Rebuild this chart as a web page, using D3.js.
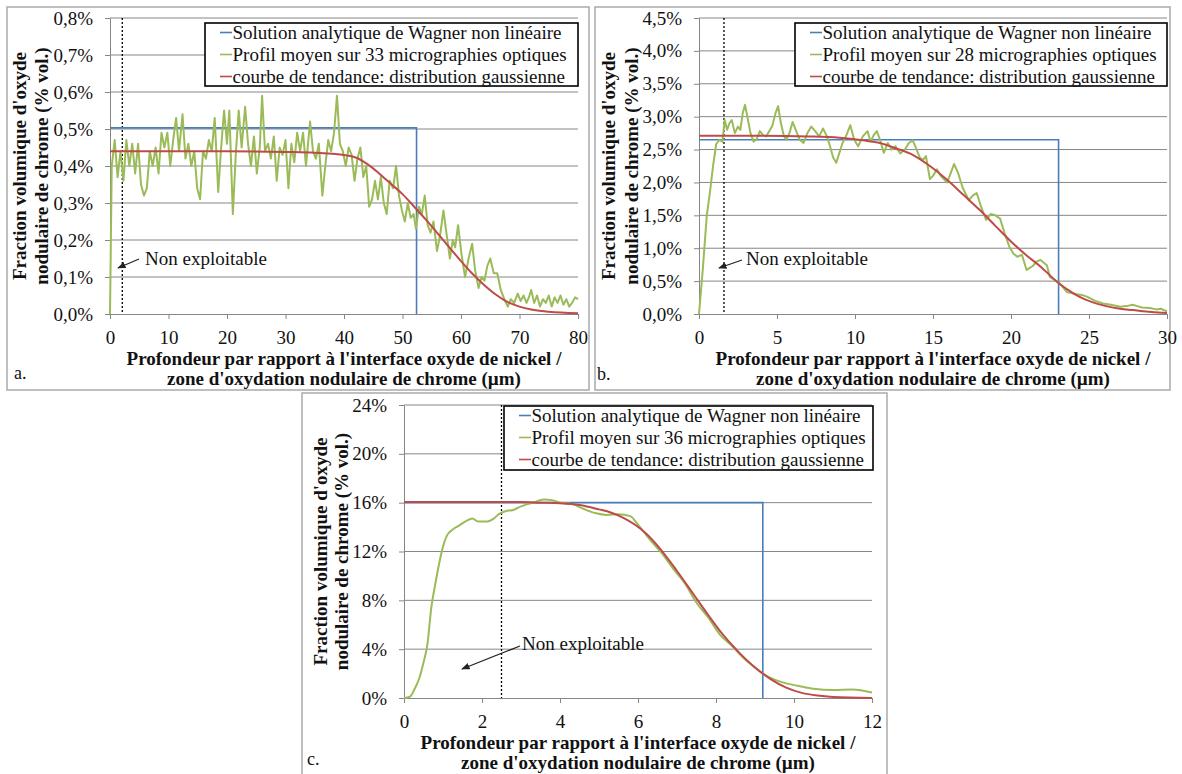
<!DOCTYPE html>
<html><head><meta charset="utf-8">
<script src="https://cdn.jsdelivr.net/npm/d3@7"></script>
<style>
body{margin:0;background:#fff}
svg{display:block}
text{font-family:"Liberation Serif","Times New Roman",serif;fill:#111}
</style>
</head><body>
<svg id="chart" width="1182" height="774"></svg>
<script>
// ---------------- DATA ----------------
const legendA = ["Solution analytique de Wagner non linéaire","Profil moyen sur 33 micrographies optiques","courbe de tendance: distribution gaussienne"];
const legendB = ["Solution analytique de Wagner non linéaire","Profil moyen sur 28 micrographies optiques","courbe de tendance: distribution gaussienne"];
const legendC = ["Solution analytique de Wagner non linéaire","Profil moyen sur 36 micrographies optiques","courbe de tendance: distribution gaussienne"];
const xTitle = ["Profondeur par rapport à l'interface oxyde de nickel /","zone d'oxydation nodulaire de chrome (µm)"];
const yTitle = ["Fraction volumique d'oxyde","nodulaire de chrome (% vol.)"];
const noteText = "Non exploitable";
const panelLetters = ["a.","b.","c."];

const xTicksA = [0,10,20,30,40,50,60,70,80];
const yTicksA = [0,0.1,0.2,0.3,0.4,0.5,0.6,0.7,0.8];
const xTicksB = [0,5,10,15,20,25,30];
const yTicksB = [0,0.5,1,1.5,2,2.5,3,3.5,4,4.5];
const xTicksC = [0,2,4,6,8,10,12];
const yTicksC = [0,4,8,12,16,20,24];

const limitA = 2.1, limitB = 1.6, limitC = 2.5;

const wagnerA = [[0,0.503],[52.4,0.503],[52.4,0]];
const profilA = [[0,0],[0.3,0.40],[0.8,0.47],[1.3,0.37],[1.8,0.44],[2.3,0.36],[2.8,0.47],[3.3,0.40],[3.8,0.46],[4.3,0.38],[4.8,0.46],[5.3,0.35],[5.8,0.32],[6.3,0.34],[6.8,0.44],[7.3,0.40],[7.8,0.45],[8.3,0.38],[8.8,0.49],[9.3,0.45],[9.8,0.49],[10.3,0.40],[10.8,0.47],[11.3,0.53],[11.8,0.44],[12.4,0.54],[12.9,0.42],[13.4,0.46],[13.9,0.40],[14.4,0.44],[14.9,0.34],[15.4,0.31],[15.9,0.44],[16.4,0.42],[16.9,0.47],[17.4,0.44],[17.9,0.53],[18.5,0.33],[19.0,0.45],[19.5,0.55],[20.0,0.46],[20.4,0.55],[21.0,0.27],[21.5,0.43],[22.0,0.55],[22.5,0.45],[23.1,0.56],[23.6,0.46],[24.1,0.40],[24.6,0.48],[25.1,0.38],[25.6,0.45],[26.0,0.59],[26.5,0.44],[27.0,0.46],[27.5,0.42],[28.0,0.48],[28.5,0.36],[29.0,0.45],[29.5,0.43],[30.0,0.47],[30.5,0.34],[31.0,0.46],[31.5,0.41],[32.0,0.49],[32.5,0.44],[33.0,0.49],[33.5,0.40],[34.2,0.52],[34.7,0.44],[35.2,0.42],[35.7,0.46],[36.3,0.32],[36.8,0.40],[37.3,0.47],[37.8,0.44],[38.3,0.49],[38.8,0.59],[39.3,0.46],[39.8,0.44],[40.3,0.40],[40.8,0.45],[41.3,0.43],[41.8,0.36],[42.3,0.42],[42.8,0.45],[43.3,0.37],[43.8,0.40],[44.3,0.29],[44.8,0.31],[45.3,0.36],[45.8,0.31],[46.3,0.37],[46.8,0.30],[47.3,0.27],[47.8,0.36],[48.4,0.34],[48.9,0.40],[49.4,0.32],[49.9,0.28],[50.4,0.25],[50.9,0.30],[51.4,0.26],[51.9,0.27],[52.3,0.23],[52.8,0.29],[53.3,0.27],[53.8,0.32],[54.3,0.24],[54.8,0.22],[55.3,0.25],[55.9,0.17],[56.4,0.21],[57.0,0.28],[57.5,0.22],[58.1,0.15],[58.6,0.20],[59.0,0.18],[59.5,0.24],[60.1,0.16],[60.7,0.10],[61.3,0.15],[61.9,0.19],[62.4,0.12],[63.0,0.07],[63.5,0.10],[64.0,0.09],[64.5,0.13],[65.0,0.15],[65.6,0.11],[66.2,0.11],[66.8,0.065],[67.4,0.04],[68.0,0.02],[68.5,0.04],[69.1,0.03],[69.7,0.055],[70.2,0.035],[70.7,0.05],[71.2,0.03],[71.6,0.045],[72.0,0.065],[72.5,0.03],[73.0,0.05],[73.5,0.02],[74.0,0.04],[74.5,0.03],[75.0,0.05],[75.5,0.02],[76.0,0.045],[76.5,0.03],[77.0,0.05],[77.5,0.025],[78.0,0.04],[78.5,0.02],[79.0,0.03],[79.5,0.045],[80.0,0.04]];
const gaussA = [[0,0.44],[10,0.44],[20,0.44],[30,0.438],[35,0.436],[38,0.433],[40,0.43],[42,0.423],[44,0.405],[46,0.38],[48,0.352],[50,0.324],[52,0.29],[54,0.255],[56,0.218],[58,0.18],[60,0.143],[62,0.108],[64,0.078],[66,0.052],[68,0.032],[70,0.02],[72,0.012],[75,0.006],[80,0.002]];

const wagnerB = [[0,2.65],[23.05,2.65],[23.05,0]];
const profilB = [[0,0],[0.25,0.7],[0.5,1.5],[0.7,1.85],[0.9,2.25],[1.1,2.58],[1.3,2.65],[1.5,2.62],[1.65,2.95],[1.8,2.8],[1.95,2.9],[2.1,2.95],[2.3,2.75],[2.5,2.85],[2.65,2.8],[2.8,3.05],[2.95,3.18],[3.1,3.0],[3.3,2.75],[3.5,2.62],[3.7,2.66],[3.9,2.78],[4.1,2.72],[4.3,2.7],[4.5,2.78],[4.7,2.86],[4.9,3.05],[5.07,3.16],[5.25,2.9],[5.45,2.7],[5.6,2.65],[5.8,2.75],[6.0,2.92],[6.2,2.8],[6.45,2.65],[6.7,2.6],[6.95,2.75],[7.2,2.85],[7.45,2.78],[7.7,2.7],[7.95,2.82],[8.2,2.7],[8.4,2.55],[8.6,2.38],[8.8,2.3],[9.0,2.45],[9.2,2.6],[9.45,2.72],[9.7,2.87],[9.95,2.65],[10.2,2.55],[10.5,2.7],[10.8,2.78],[11.0,2.62],[11.2,2.72],[11.4,2.78],[11.6,2.65],[11.85,2.45],[12.1,2.6],[12.35,2.5],[12.6,2.55],[12.9,2.44],[13.2,2.5],[13.45,2.6],[13.7,2.64],[13.95,2.5],[14.15,2.38],[14.35,2.34],[14.55,2.4],[14.8,2.05],[15.0,2.1],[15.25,2.2],[15.5,2.1],[15.9,2.0],[16.1,2.12],[16.35,2.28],[16.6,2.15],[16.9,1.92],[17.3,1.73],[17.55,1.8],[17.8,1.84],[18.1,1.62],[18.4,1.43],[18.7,1.52],[19.0,1.5],[19.3,1.45],[19.6,1.22],[19.9,1.02],[20.15,0.92],[20.4,0.87],[20.7,0.9],[21.0,0.67],[21.2,0.7],[21.4,0.73],[21.65,0.8],[21.9,0.82],[22.1,0.78],[22.3,0.74],[22.5,0.56],[22.8,0.52],[23.1,0.47],[23.35,0.4],[23.6,0.33],[23.9,0.32],[24.2,0.3],[24.55,0.29],[24.9,0.26],[25.4,0.2],[25.9,0.16],[26.4,0.14],[27.0,0.11],[27.4,0.12],[27.8,0.14],[28.1,0.12],[28.4,0.1],[28.9,0.09],[29.3,0.07],[29.6,0.08],[30.0,0.04]];
const gaussB = [[0,2.71],[4,2.71],[7,2.7],[9,2.68],[10.5,2.64],[11.6,2.6],[12.6,2.52],[13.7,2.42],[14.8,2.25],[15.9,2.04],[17,1.8],[18,1.58],[19,1.34],[20.1,1.08],[21,0.89],[21.9,0.72],[23,0.48],[23.7,0.36],[24.4,0.26],[25.2,0.18],[26.1,0.12],[27,0.08],[27.8,0.06],[29,0.03],[30,0.015]];

const wagnerC = [[0,16.0],[9.2,16.0],[9.2,0]];
const profilC = [[0,0],[0.15,0.1],[0.25,0.6],[0.4,1.7],[0.5,2.9],[0.6,4.4],[0.7,7.4],[0.8,9.3],[0.9,11.0],[1.0,12.4],[1.1,13.3],[1.25,13.8],[1.4,14.1],[1.6,14.5],[1.75,14.7],[1.9,14.45],[2.1,14.45],[2.3,14.7],[2.45,15.1],[2.6,15.3],[2.8,15.4],[3.0,15.7],[3.2,15.9],[3.4,16.1],[3.6,16.25],[3.8,16.2],[4.0,16.0],[4.3,15.9],[4.6,15.5],[4.9,15.15],[5.2,15.0],[5.5,15.05],[5.8,14.9],[6.0,14.2],[6.3,13.0],[6.6,11.9],[6.9,10.6],[7.2,9.4],[7.5,7.8],[7.8,6.6],[8.1,5.2],[8.4,4.3],[8.7,3.3],[9.0,2.5],[9.2,2.0],[9.5,1.5],[9.8,1.2],[10.1,1.0],[10.5,0.75],[11.0,0.65],[11.5,0.7],[12.0,0.45]];
const gaussC = [[0,16.05],[3,16.05],[3.5,16.0],[4,15.95],[4.5,15.8],[5,15.45],[5.3,15.2],[5.6,14.8],[6.2,13.5],[6.6,12.1],[7.0,10.4],[7.4,8.6],[7.8,6.8],[8.2,5.1],[8.6,3.7],[9.0,2.5],[9.4,1.55],[9.8,0.85],[10.2,0.42],[10.6,0.2],[11,0.09],[12,0.01]];

// ---------------- STYLE / LAYOUT ----------------
const colBlue = "#4A7EBB", colGreen = "#9BBB59", colRed = "#BE4B48", colGrid = "#868686";
const FS = 19, FS_LEG = 19;
const svg = d3.select("#chart");
svg.append("rect").attr("width",1182).attr("height",774).attr("fill","#fff");
const defs = svg.append("defs");
defs.append("marker").attr("id","arrow").attr("viewBox","0 0 10 10").attr("refX",9).attr("refY",5)
  .attr("markerWidth",7).attr("markerHeight",7).attr("orient","auto")
  .append("path").attr("d","M0,1 L10,5 L0,9 Z").attr("fill","#222");

const commaFmt = d => d3.format(".1f")(d).replace(".", ",") + "%";
const intFmt = d => d + "%";

const panels = [
  {frame:[7,7,582,383], plot:{x0:110,x1:578,y0:18,y1:314}, xDom:[0,80], yDom:[0,0.8], xTicks:xTicksA, yTicks:yTicksA, yFmt:commaFmt,
   wagner:wagnerA, profil:profilA, gauss:gaussA, limit:limitA, legend:legendA, leg:{x:205,y:23,w:373,h:63},
   yT:[-84,-62], note:{tx:145,ty:265,x1:139,y1:259,x2:118,y2:268}, letter:{x:14,y:379,t:panelLetters[0]}, noisy:true},
  {frame:[595,7,575,383], plot:{x0:699,x1:1167,y0:18,y1:314}, xDom:[0,30], yDom:[0,4.5], xTicks:xTicksB, yTicks:yTicksB, yFmt:commaFmt,
   wagner:wagnerB, profil:profilB, gauss:gaussB, limit:limitB, legend:legendB, leg:{x:795,y:23,w:372,h:63},
   yT:[-84,-61], note:{tx:746,ty:265,x1:742,y1:260,x2:719,y2:268}, letter:{x:597,y:380,t:panelLetters[1]}, noisy:true},
  {frame:[302,393,585,390], plot:{x0:404,x1:872,y0:405,y1:698}, xDom:[0,12], yDom:[0,24], xTicks:xTicksC, yTicks:yTicksC, yFmt:intFmt,
   wagner:wagnerC, profil:profilC, gauss:gaussC, limit:limitC, legend:legendC, leg:{x:504,y:406,w:369,h:64},
   yT:[-77,-56], note:{tx:522,ty:650,x1:520,y1:646,x2:462,y2:669}, letter:{x:307,y:765,t:panelLetters[2]}, noisy:false}
];

function drawPanel(p){
  const g = svg.append("g");
  g.append("rect").attr("x",p.frame[0]).attr("y",p.frame[1]).attr("width",p.frame[2]).attr("height",p.frame[3])
    .attr("fill","none").attr("stroke","#aaa").attr("stroke-width",1.5);
  const x = d3.scaleLinear().domain(p.xDom).range([p.plot.x0,p.plot.x1]);
  const y = d3.scaleLinear().domain(p.yDom).range([p.plot.y1,p.plot.y0]);

  // grid
  g.append("g").selectAll("line").data(p.yTicks.filter(v=>v>p.yDom[0])).join("line")
    .attr("x1",x(p.xDom[0])).attr("x2",x(p.xDom[1])).attr("y1",d=>y(d)).attr("y2",d=>y(d))
    .attr("stroke",colGrid).attr("stroke-width",1);

  // axes
  const ya = g.append("g").attr("transform",`translate(${x(p.xDom[0])},0)`)
    .call(d3.axisLeft(y).tickValues(p.yTicks).tickFormat(p.yFmt).tickSize(5).tickSizeOuter(0).tickPadding(12));
  const xa = g.append("g").attr("transform",`translate(0,${y(p.yDom[0])})`)
    .call(d3.axisBottom(x).tickValues(p.xTicks).tickFormat(d=>d).tickSize(5).tickSizeOuter(0));
  [ya,xa].forEach(a=>{
    a.select(".domain").attr("stroke",colGrid);
    a.selectAll(".tick line").attr("stroke",colGrid);
    a.selectAll("text").attr("font-size",FS).attr("font-family","Liberation Serif").attr("fill","#111");
  });
  xa.selectAll("text").attr("y",30).attr("dy",null);

  // dotted limit
  g.append("line").attr("x1",x(p.limit)).attr("x2",x(p.limit)).attr("y1",y(p.yDom[1])).attr("y2",y(p.yDom[0]))
    .attr("stroke","#000").attr("stroke-width",1.3).attr("stroke-dasharray","2,2");

  // series
  const lineLin = d3.line().x(d=>x(d[0])).y(d=>y(d[1]));
  const lineSmooth = d3.line().x(d=>x(d[0])).y(d=>y(d[1])).curve(d3.curveMonotoneX);
  g.append("path").datum(p.wagner).attr("d",lineLin).attr("fill","none").attr("stroke",colBlue).attr("stroke-width",1.6);
  g.append("path").datum(p.profil).attr("d",p.noisy?lineLin:lineSmooth).attr("fill","none").attr("stroke",colGreen).attr("stroke-width",2).attr("stroke-linejoin","round");
  g.append("path").datum(p.gauss).attr("d",lineSmooth).attr("fill","none").attr("stroke",colRed).attr("stroke-width",2);

  // legend
  const L = p.leg;
  g.append("rect").attr("x",L.x).attr("y",L.y).attr("width",L.w).attr("height",L.h)
    .attr("fill","#fff").attr("stroke","#000").attr("stroke-width",1.6);
  const cols = [colBlue,colGreen,colRed];
  p.legend.forEach((t,i)=>{
    const by = L.y + 15.5 + i*22;
    g.append("line").attr("x1",L.x+15).attr("x2",L.x+27).attr("y1",by-6).attr("y2",by-6).attr("stroke",cols[i]).attr("stroke-width",1.6);
    g.append("text").attr("x",L.x+27.5).attr("y",by).attr("font-size",FS_LEG).text(t);
  });

  // note + arrow
  const n = p.note;
  g.append("text").attr("x",n.tx).attr("y",n.ty).attr("font-size",FS).text(noteText);
  g.append("line").attr("x1",n.x1).attr("y1",n.y1).attr("x2",n.x2).attr("y2",n.y2)
    .attr("stroke","#222").attr("stroke-width",1.2).attr("marker-end","url(#arrow)");

  // x title
  const cx = (p.plot.x0+p.plot.x1)/2;
  xTitle.forEach((t,i)=>{
    g.append("text").attr("x",cx).attr("y",y(p.yDom[0])+51+i*20).attr("text-anchor","middle")
      .attr("font-size",FS).attr("font-weight","bold").text(t);
  });
  // y title
  const cy = (p.plot.y0+p.plot.y1)/2;
  yTitle.forEach((t,i)=>{
    const tx = x(p.xDom[0]) + p.yT[i];
    g.append("text").attr("transform",`translate(${tx},${cy}) rotate(-90)`).attr("text-anchor","middle")
      .attr("font-size",FS).attr("font-weight","bold").text(t);
  });
  // letter
  g.append("text").attr("x",p.letter.x).attr("y",p.letter.y).attr("font-size",18).text(p.letter.t);
}
panels.forEach(drawPanel);
</script>
</body></html>
